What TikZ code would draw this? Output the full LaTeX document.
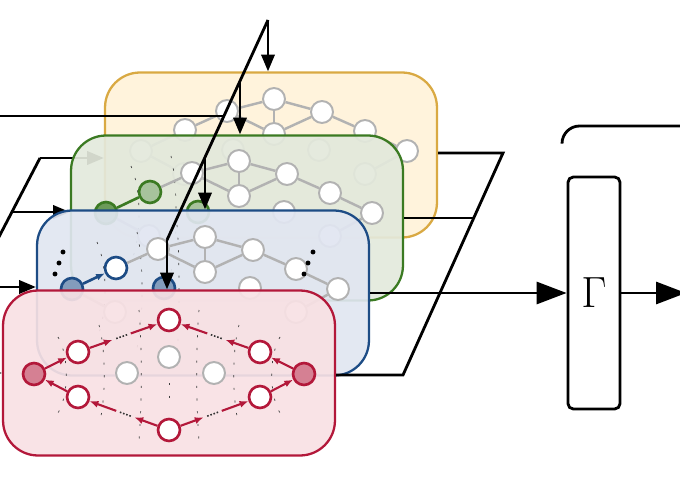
\documentclass[tikz,border=0pt]{standalone}
\usetikzlibrary{calc, positioning, arrows.meta}
\definecolor{yelc}{HTML}{D9A943}
\definecolor{yelf}{HTML}{FFF2D9}
\definecolor{grnc}{HTML}{3B7A22}
\definecolor{grnf}{HTML}{E3E9DC}
\definecolor{bluc}{HTML}{1D4C85}
\definecolor{bluf}{HTML}{E1E6F1}
\definecolor{redc}{HTML}{B3183A}
\definecolor{redf}{HTML}{F8E1E4}
\newcommand{\gnodes}{t/0/-53, d/0/-18, b/-47/-41, e/48/-40, ul/-89/-22, ur/91/-21, l/-133/-1, r/133/-1, ml/-41/-2, mr/45/-2, ll/-90/22, lr/91/22}
\newcommand{\gedges}{ul/b, b/t, b/d, t/d, t/e, d/e, e/ur, ur/r, l/ll, r/lr}
\begin{document}
\begin{tikzpicture}[x=0.02cm, y=-0.02cm,
  layer/.style = {draw, line width=1.3pt, rounded corners=0.7cm, minimum width=6.64cm, minimum height=3.3cm, fill opacity=.92},
  gv/.style = {circle, draw=black!30, fill=white, line width=1.1pt, inner sep=0pt, minimum size=12.5pt},
  cv/.style = {line width=1.5pt},
  ge/.style = {black!30, line width=1.4pt},
  front/.style = {black!75, line width=.4pt, dash pattern=on 1.2pt off 6pt},
  thk/.style = {line width=1.6pt},
  arr/.style = {thk, -{Triangle[length=9.5pt, width=7.5pt]}},
  bigarr/.style = {thk, -{Triangle[length=17pt, width=12.5pt]}},
  rarr/.style = {redc, line width=1.2pt, -{Latex[length=5pt, width=4pt]}},
  hop/.style = {black!80, line width=.9pt, densely dotted}]
\useasboundingbox (0,0) rectangle (680,500);
\clip (0,0) rectangle (680,500);
\coordinate (t0) at (268,20);
\coordinate (t2) at (240,81);
\coordinate (t3) at (205,157);
\coordinate (t4) at (167,240);
\coordinate (t5) at (224,116);
\coordinate (w0) at (-5,116);
\coordinate (p1) at (40,158);
\coordinate (p2) at (12,212);
\coordinate (p3) at (-27,287);
\coordinate (p4) at (-72,373);
\coordinate (p5) at (-90,408);
\coordinate (q0) at (503,153);
\coordinate (q2) at (474,218);
\coordinate (q4) at (403,375);
\coordinate (k0) at (562,143);
\coordinate (k1) at (690,126);
\coordinate (o1) at (686,293);

\node[layer, draw=yelc, fill=yelf] (yel) at (271,155) {};
\begin{scope}[shift={(274,152)}]
  \foreach \n/\a/\b in \gnodes \node[gv, v\n/.try] (y\n) at (\a,\b) {};
  \foreach \u/\v in \gedges \draw[ge] (y\u) -- (y\v);
  \draw[ge] (yl) -- (yul);
\end{scope}
\draw[arr] (p1) -- (p1 -| yel.west);

\node[layer, draw=grnc, fill=grnf] (grn) at (237,218) {};
\begin{scope}[shift={(239,214)}, vl/.style={cv, draw=grnc, fill=grnc!75}, vul/.style={cv, draw=grnc, fill=grnc!45}, vml/.style={cv, draw=grnc, fill=grnc!45}]
  \foreach \a/\h in {-108/48, -68/58} \draw[front] (\a,-\h) .. controls (0.9*\a,-\h/2) and (0.9*\a,\h/2) .. (\a,\h);
  \foreach \n/\a/\b in \gnodes \node[gv, v\n/.try] (g\n) at (\a,\b) {};
  \foreach \u/\v in \gedges \draw[ge] (g\u) -- (g\v);
  \draw[grnc, cv] (gl) -- (gul);
\end{scope}
\draw[arr] (p2) -- (p2 -| grn.west);

\node[layer, draw=bluc, fill=bluf] (blu) at (203,293) {};
\begin{scope}[shift={(205,290)}, vl/.style={cv, draw=bluc, fill=bluc!55}, vul/.style={cv, draw=bluc}, vml/.style={cv, draw=bluc, fill=bluc!55}]
  \foreach \a/\h in {-108/48, -68/58, -28/65} \draw[front] (\a,-\h) .. controls (0.9*\a,-\h/2) and (0.9*\a,\h/2) .. (\a,\h);
  \foreach \n/\a/\b in \gnodes \node[gv, v\n/.try] (b\n) at (\a,\b) {};
  \foreach \u/\v in \gedges \draw[ge] (b\u) -- (b\v);
  \draw[bluc, cv, -{Latex[length=5pt, width=4pt]}] (bl) -- (bul);
  \foreach \a/\b in {-142/-38, -146/-27, -150/-16, 108/-38, 103/-27, 99/-16} \fill (\a,\b) circle (1.4pt);
\end{scope}
\draw[arr] (p3) -- (p3 -| blu.west);

\node[layer, draw=redc, fill=redf] (red) at (169,373) {};
\begin{scope}[shift={(169,375)}]
  \foreach \a/\h in {-111/38, -70/50, -30/65, 30/65, 70/50, 111/38} \draw[front] (\a,-\h) .. controls (0.9*\a,-\h/2) and (0.9*\a,\h/2) .. (\a,\h);
  \draw[front] (0,8) -- (0,26);
  \node[gv, cv, draw=redc, fill=redc!55] (rl) at (-135,-1) {};
  \node[gv, cv, draw=redc, fill=redc!55] (rr) at (135,-1) {};
  \node[gv, cv, draw=redc] (rul) at (-91,-23) {};
  \node[gv, cv, draw=redc] (rll) at (-91,22) {};
  \node[gv, cv, draw=redc] (rur) at (91,-23) {};
  \node[gv, cv, draw=redc] (rlr) at (91,22) {};
  \node[gv, cv, draw=redc] (rt) at (0,-55) {};
  \node[gv, cv, draw=redc] (rbo) at (0,55) {};
  \node[gv] (rml) at (-42,-2) {};
  \node[gv] (rd) at (0,-18) {};
  \node[gv] (rmr) at (45,-2) {};
\end{scope}
\draw[rarr] (rl) -- (rul);
\draw[rarr] (rll) -- (rl);
\draw[rarr] (rr) -- (rur);
\draw[rarr] (rlr) -- (rr);
\foreach \u/\v in {rul/rt, rur/rt, rbo/rll, rbo/rlr} {
  \draw[rarr] (\u) -- ($(\u)!.38!(\v)$);
  \draw[hop] ($(\u)!.42!(\v)$) -- ($(\u)!.54!(\v)$);
  \draw[rarr] ($(\u)!.58!(\v)$) -- (\v);
}
\draw[arr] (p4) -- (p4 -| red.west);

\draw[thk] (t0) -- (t4);
\draw[arr] (t0) -- (t0 |- yel.north);
\draw[arr] (t2) -- (t2 |- grn.north);
\draw[arr] (t3) -- (t3 |- blu.north);
\draw[arr] (t4) -- (t4 |- red.north);
\draw[thk] (w0) -- (t5);
\draw[thk] (p1) -- (p5);
\draw[thk] (red.east |- q4) -- (q4) -- (q0) -- (yel.east |- q0);
\draw[thk] (grn.east |- q2) -- (q2);

\node[draw, thk, rounded corners=3pt, minimum width=1.04cm, minimum height=4.64cm, font=\fontsize{23}{27}\selectfont] (gam) at (594,293) {$\Gamma$};
\draw[bigarr] (blu.east |- gam) -- (gam);
\draw[bigarr] (gam) -- (o1);
\draw[thk, rounded corners=10pt] (k0) |- (k1);
\end{tikzpicture}
\end{document}
